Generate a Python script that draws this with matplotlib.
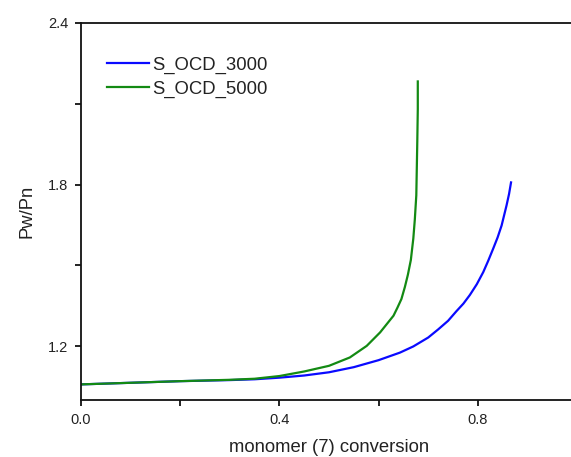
import numpy as np
import matplotlib
matplotlib.use("Agg")
import matplotlib.pyplot as plt
from matplotlib.ticker import MultipleLocator

plt.rcParams["font.family"] = ["Liberation Sans", "DejaVu Sans"]

# S_OCD_3000 (blue)
x_3000 = [0.0, 0.1, 0.2, 0.3, 0.35, 0.4, 0.45, 0.5, 0.55, 0.6, 0.643, 0.67,
          0.7, 0.72, 0.74, 0.757, 0.771, 0.784, 0.798, 0.811, 0.821, 0.831,
          0.84, 0.848, 0.858, 0.863, 0.867]
y_3000 = [1.058, 1.064, 1.070, 1.074, 1.077, 1.083, 1.091, 1.103, 1.122, 1.148,
          1.176, 1.199, 1.232, 1.262, 1.294, 1.330, 1.358, 1.390, 1.430, 1.475,
          1.517, 1.562, 1.604, 1.648, 1.723, 1.765, 1.808]

# S_OCD_5000 (green)
x_5000 = [0.0, 0.1, 0.2, 0.3, 0.35, 0.4, 0.45, 0.5, 0.542, 0.576, 0.603, 0.63,
          0.638, 0.646, 0.653, 0.659, 0.665, 0.670, 0.673, 0.676, 0.677, 0.678,
          0.679, 0.679]
y_5000 = [1.058, 1.064, 1.070, 1.075, 1.079, 1.089, 1.106, 1.127, 1.158, 1.201,
          1.251, 1.313, 1.343, 1.375, 1.420, 1.465, 1.520, 1.600, 1.670, 1.760,
          1.860, 1.960, 2.080, 2.183]

fig = plt.figure(figsize=(5.71, 4.57), dpi=100)
ax = fig.add_axes([0.1419, 0.1247, 0.8686, 0.825])

txt = "#222222"
ax.plot(x_3000, y_3000, color="#0a0aff", lw=1.6, label="S_OCD_3000")
ax.plot(x_5000, y_5000, color="#138a13", lw=1.6, label="S_OCD_5000")

ax.set_xlim(0.0, 1.0)
ax.set_ylim(1.0, 2.4)
ax.xaxis.set_major_locator(MultipleLocator(0.4))
ax.xaxis.set_minor_locator(MultipleLocator(0.2))
ax.set_yticks([1.2, 1.8, 2.4])
ax.set_yticks([1.5, 2.1], minor=True)
ax.xaxis.set_major_formatter(plt.FormatStrFormatter("%.1f"))
ax.yaxis.set_major_formatter(plt.FormatStrFormatter("%.1f"))

ax.spines["right"].set_visible(False)
for s in ["left", "bottom", "top"]:
    ax.spines[s].set_linewidth(1.3)
    ax.spines[s].set_color("#111111")
ax.tick_params(which="both", direction="out", length=4, width=1.3,
               colors="#111111", labelcolor=txt, labelsize=10.5, pad=5,
               top=False, right=False)

ax.set_xlabel("monomer (7) conversion", fontsize=13.3, color=txt, labelpad=9)
ax.set_ylabel("Pw/Pn", fontsize=13.3, color=txt, labelpad=9)

ax.legend(loc="upper left", bbox_to_anchor=(0.018, 0.955), frameon=False,
          fontsize=13.3, handlelength=2.3, handletextpad=0.15,
          labelspacing=0.37, labelcolor=txt)

fig.savefig("out.png", dpi=100)
